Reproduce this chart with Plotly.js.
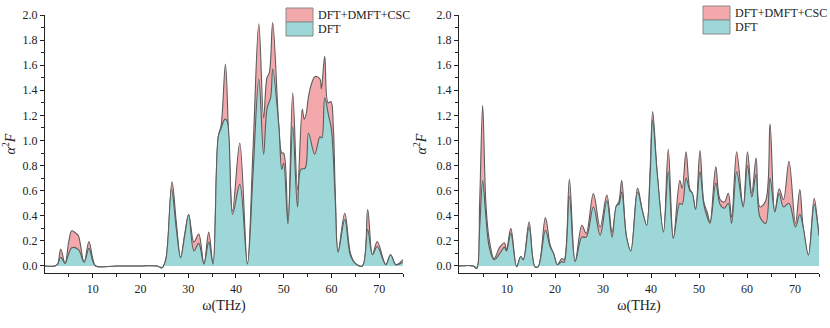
<!DOCTYPE html>
<html>
<head>
<meta charset="utf-8">
<script src="https://cdn.plot.ly/plotly-3.0.1.min.js"></script>
<style>
  html, body { margin: 0; padding: 0; background: #ffffff; }
  #chart { width: 830px; height: 328px; }
</style>
</head>
<body>
<div id="chart"></div>
<script>
// left panel (omega in THz, alpha^2F)
const LEFT_DFT_W = [0, 2, 2.6, 3.3, 4.2, 5.0, 5.6, 7.0, 8.2, 9.2, 10.0, 10.6, 15, 20, 23.5, 24.5, 25.3, 26.5, 27.5, 28.4,
  29.3, 30.1, 31.2, 32.2, 33.3, 34.3, 35.2, 36.3, 36.9, 37.7, 38.2, 39.3, 40.8, 42.4, 43.6, 44.8, 45.8, 46.5, 47.3, 47.7,
  49.0, 49.6, 50.0, 50.9, 51.9, 52.9, 53.6, 54.5, 55.2, 56.5, 57.6, 58.0, 58.6, 59.4, 60.0, 60.8, 61.4, 62.8, 64.0, 65.0,
  66.5, 67.6, 68.6, 69.6, 71.4, 72.4, 73.5, 75];
const LEFT_DFT = [0, 0, 0.01, 0.07, 0.02, 0.10, 0.145, 0.13, 0.03, 0.14, 0.04, 0, 0, 0, 0, -0.015, 0.05, 0.61, 0.3, 0.065,
  0.25, 0.41, 0.12, 0.18, 0.015, 0.19, 0.015, 1.03, 1.10, 1.17, 1.15, 0.41, 0.65, 0.015, 0.75, 1.49, 0.89, 1.25, 1.35, 1.57,
  1.11, 0.77, 0.82, 0.335, 1.11, 0.47, 0.77, 0.78, 1.06, 0.89, 1.03, 1.02, 1.34, 1.2, 1.09, 0.53, 0.11, 0.37, 0.08, 0.02,
  0.0, 0.29, 0.09, 0.155, 0.01, 0.09, 0.01, 0.03];

const LEFT_CSC_W = [0, 2, 2.6, 3.3, 4.2, 5.0, 5.6, 6.5, 7.0, 8.2, 9.2, 10.0, 10.6, 15, 20, 23.5, 24.5, 25.3, 26.6, 27.5,
  28.4, 29.3, 30.1, 31.2, 32.2, 33.3, 34.3, 35.2, 36.3, 36.9, 37.8, 38.5, 39.3, 40.8, 42.4, 43.6, 44.8, 45.8, 46.5, 47.0,
  47.7, 49.0, 49.6, 50.0, 50.9, 51.9, 52.9, 53.9, 54.3, 54.7, 55.2, 55.9, 56.6, 57.6, 57.9, 58.6, 59.3, 59.9, 60.4, 60.8,
  61.4, 62.8, 64.0, 65.0, 66.5, 67.6, 68.6, 69.6, 71.4, 72.4, 73.5, 75];
const LEFT_CSC = [0, 0, 0.01, 0.135, 0.02, 0.2, 0.28, 0.26, 0.24, 0.03, 0.195, 0.06, 0, 0, 0, 0, -0.015, 0.05, 0.67, 0.35,
  0.065, 0.26, 0.41, 0.19, 0.255, 0.015, 0.27, 0.015, 1.03, 1.12, 1.61, 1.0, 0.435, 0.98, 0.015, 0.95, 1.93, 1.18, 1.50, 1.54,
  1.94, 1.11, 0.9, 0.9, 0.335, 1.38, 0.61, 1.25, 1.17, 1.21, 1.35, 1.46, 1.51, 1.49, 1.41, 1.67, 1.30, 1.31, 1.11, 0.6,
  0.115, 0.42, 0.1, 0.02, 0, 0.45, 0.09, 0.195, 0.01, 0.09, 0.01, 0.05];

// right panel, both series on the same omega grid
const RIGHT_W = [0, 3, 3.7, 4.3, 4.93, 5.6, 6.3, 7.3, 8.5, 9.45, 9.9, 10.8, 12.0, 12.85, 13.4, 14.6, 15.8, 16.5, 18.0, 19.0,
  19.7, 20.5, 21.4, 21.9, 23.0, 24.2, 25.6, 26.5, 28.0, 29.4, 30.8, 31.9, 32.8, 33.3, 33.9, 34.9, 35.8, 37.2, 38.2, 39.1,
  39.8, 40.35, 41.3, 42.6, 43.6, 44.65, 46.0, 46.5, 47.3, 48.1, 48.6, 49.3, 50.2, 51.0, 51.7, 52.3, 53.5, 54.4, 55.3, 56.1,
  56.8, 57.85, 59.2, 60.1, 61.0, 61.9, 62.7, 63.9, 64.8, 65.8, 66.7, 67.6, 68.75, 70.1, 71.0, 71.7, 72.8, 74.0, 74.8, 75];
const RIGHT_DFT = [0, 0, -0.02, 0.3, 0.68, 0.39, 0.15, 0.05, 0.10, 0.15, 0.12, 0.26, -0.005, 0.075, 0.05, 0.31, -0.005, -0.005, 0.285, 0.15,
  0.10, 0.01, 0.035, 0.03, 0.555, 0.035, 0.23, 0.23, 0.47, 0.245, 0.52, 0.23, 0.48, 0.49, 0.59, 0.23, 0.12, 0.59, 0.44, 0.325,
  0.70, 1.16, 0.735, 0.27, 0.75, 0.22, 0.50, 0.49, 0.70, 0.60, 0.58, 0.45, 0.75, 0.49, 0.39, 0.34, 0.66, 0.49, 0.46, 0.50,
  0.34, 0.75, 0.47, 0.80, 0.55, 0.73, 0.39, 0.34, 0.70, 0.43, 0.58, 0.47, 0.50, 0.31, 0.41, 0.31, 0.087, 0.49, 0.31, 0.24];
const RIGHT_CSC = [0, 0, -0.02, 0.5, 1.28, 0.50, 0.21, 0.06, 0.15, 0.185, 0.13, 0.30, -0.005, 0.075, 0.05, 0.35, -0.005, -0.005, 0.385, 0.165,
  0.10, 0.01, 0.06, 0.05, 0.69, 0.035, 0.325, 0.26, 0.577, 0.31, 0.565, 0.27, 0.48, 0.51, 0.68, 0.23, 0.12, 0.62, 0.44, 0.325,
  0.75, 1.23, 0.735, 0.27, 0.93, 0.22, 0.68, 0.62, 0.91, 0.61, 0.58, 0.45, 0.92, 0.51, 0.43, 0.35, 0.79, 0.53, 0.51, 0.58,
  0.39, 0.91, 0.47, 0.91, 0.58, 0.86, 0.47, 0.52, 1.13, 0.43, 0.615, 0.53, 0.835, 0.34, 0.61, 0.31, 0.087, 0.54, 0.31, 0.24];

const X_TICKS = [10, 20, 30, 40, 50, 60, 70];
const Y_TICKS = [0, 0.2, 0.4, 0.6, 0.8, 1.0, 1.2, 1.4, 1.6, 1.8, 2.0];
const SERIES_NAMES = ["DFT+DMFT+CSC", "DFT"];

(function () {
  "use strict";

  const FONT = "Liberation Serif, Times New Roman, serif";
  const INK = "#222222";
  const PINK = "#f3a8ab";
  const TEAL = "#9dd7d7";
  const OUTLINE = "#5c5c5c";

  function makeTrace(x, y, color, name, xaxis, yaxis) {
    return {
      x: x,
      y: y,
      name: name,
      type: "scatter",
      mode: "lines",
      fill: "tozeroy",
      fillcolor: color,
      line: { color: OUTLINE, width: 1.1, shape: "spline", smoothing: 1.0 },
      xaxis: xaxis,
      yaxis: yaxis,
      showlegend: false,
      hoverinfo: "skip"
    };
  }

  function xAxis(domain, anchor) {
    return {
      domain: domain,
      anchor: anchor,
      range: [0, 75],
      tickmode: "array",
      tickvals: X_TICKS,
      ticktext: X_TICKS.map(String),
      ticks: "outside",
      ticklen: 4,
      tickwidth: 1,
      tickcolor: INK,
      minor: { tickmode: "linear", tick0: 5, dtick: 10, ticks: "outside", ticklen: 2.5, tickcolor: INK },
      showline: true,
      linecolor: INK,
      linewidth: 1.2,
      showgrid: false,
      zeroline: false,
      tickfont: { family: FONT, size: 12, color: INK },
      title: { text: "\u03c9(THz)", font: { family: FONT, size: 14, color: INK }, standoff: 5 }
    };
  }

  function yAxis(anchor) {
    return {
      anchor: anchor,
      range: [-0.056, 2.0],
      tickmode: "array",
      tickvals: Y_TICKS,
      ticktext: Y_TICKS.map((v) => v.toFixed(1)),
      ticks: "outside",
      ticklen: 4,
      tickwidth: 1,
      tickcolor: INK,
      minor: { tickmode: "linear", tick0: 0.1, dtick: 0.2, ticks: "outside", ticklen: 2.5, tickcolor: INK },
      showline: true,
      linecolor: INK,
      linewidth: 1.2,
      showgrid: false,
      zeroline: false,
      tickfont: { family: FONT, size: 12, color: INK },
      title: {
        text: "<i>\u03b1</i><sup>2</sup><i>F</i>",
        font: { family: FONT, size: 14, color: INK },
        standoff: 6
      }
    };
  }

  // legend swatches in pixels, converted to paper coordinates
  const PLOT_L = 45, PLOT_W = 774, PLOT_B = 273, PLOT_H = 258;
  function px(x) { return (x - PLOT_L) / PLOT_W; }
  function py(y) { return (PLOT_B - y) / PLOT_H; }

  function legendParts(left, top) {
    const shapes = [PINK, TEAL].map((color, i) => ({
      type: "rect",
      xref: "paper",
      yref: "paper",
      x0: px(left),
      x1: px(left + 27),
      y0: py(top + 14 * i),
      y1: py(top + 14 * (i + 1)),
      fillcolor: color,
      line: { color: "#8a8a8a", width: 1 }
    }));
    const notes = SERIES_NAMES.map((name, i) => ({
      xref: "paper",
      yref: "paper",
      x: px(left + 30),
      y: py(top + 14 * i + 7),
      xanchor: "left",
      yanchor: "middle",
      showarrow: false,
      text: name,
      font: { family: FONT, size: 12, color: INK }
    }));
    return { shapes: shapes, notes: notes };
  }

  function renderChart() {
    const traces = [
      makeTrace(LEFT_CSC_W, LEFT_CSC, PINK, SERIES_NAMES[0], "x", "y"),
      makeTrace(LEFT_DFT_W, LEFT_DFT, TEAL, SERIES_NAMES[1], "x", "y"),
      makeTrace(RIGHT_W, RIGHT_CSC, PINK, SERIES_NAMES[0], "x2", "y2"),
      makeTrace(RIGHT_W, RIGHT_DFT, TEAL, SERIES_NAMES[1], "x2", "y2")
    ];

    const legL = legendParts(286, 8);
    const legR = legendParts(703, 6);

    const layout = {
      width: 830,
      height: 328,
      margin: { t: 15, r: 11, b: 55, l: 45 },
      paper_bgcolor: "#ffffff",
      plot_bgcolor: "rgba(0,0,0,0)",
      font: { family: FONT, color: INK },
      showlegend: false,
      xaxis: xAxis([0, px(403)], "y"),
      yaxis: yAxis("x"),
      xaxis2: xAxis([px(459), 1], "y2"),
      yaxis2: yAxis("x2"),
      shapes: legL.shapes.concat(legR.shapes),
      annotations: legL.notes.concat(legR.notes)
    };

    Plotly.newPlot("chart", traces, layout, { displayModeBar: false, staticPlot: true });
  }

  renderChart();
})();
</script>
</body>
</html>
